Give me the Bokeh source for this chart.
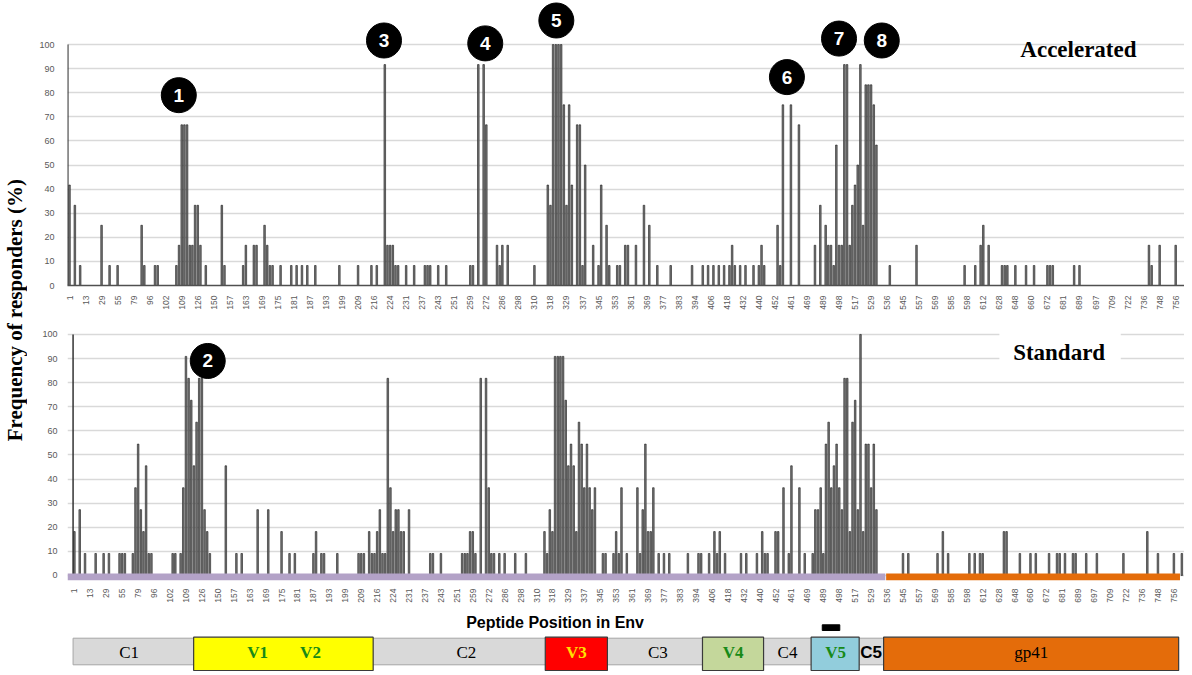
import math
from bokeh.plotting import figure
from bokeh.models import Range1d, FixedTicker, Div
from bokeh.layouts import row, column
from bokeh.embed import file_html
from bokeh.resources import INLINE
from bokeh.core.properties import value

# ---------------- data ----------------
tick_labels = ["1", "13", "29", "55", "79", "96", "102", "109", "126", "150",
               "157", "163", "169", "175", "181", "187", "193", "199", "209", "216",
               "224", "231", "237", "243", "251", "259", "272", "286", "298", "310",
               "318", "329", "337", "345", "353", "361", "369", "377", "383", "394",
               "406", "418", "432", "440", "452", "461", "469", "489", "498", "517",
               "529", "536", "545", "557", "569", "585", "598", "612", "628", "648",
               "660", "672", "681", "689", "697", "709", "722", "736", "748", "756"]
TICK_STEP = 6  # peptides between labelled ticks

# Accelerated: peptide index -> % responders
acc_idx = [0, 2, 4, 12, 15, 18, 27, 28, 32, 33, 40, 41, 42, 43, 44, 45, 46, 47, 48, 49,
           51, 57, 58, 65, 66, 69, 70, 73, 74, 75, 76, 79, 83, 85, 87, 89, 92, 101, 108, 113,
           115, 118, 119, 120, 121, 122, 123, 126, 129, 133, 134, 135, 138, 141, 150, 151, 153, 155, 156, 160,
           161, 162, 164, 174, 179, 180, 181, 182, 183, 184, 185, 186, 187, 188, 190, 191, 192, 193, 196, 198,
           199, 201, 202, 205, 206, 208, 209, 212, 215, 217, 220, 225, 233, 237, 239, 241, 243, 245, 247, 248,
           249, 251, 253, 256, 258, 259, 260, 265, 266, 267, 270, 273, 279, 281, 283, 284, 285, 286, 287, 288,
           289, 290, 291, 292, 293, 294, 295, 296, 297, 298, 299, 300, 301, 302, 307, 317, 335, 339, 341, 342,
           344, 349, 350, 351, 354, 358, 361, 366, 367, 368, 376, 378, 404, 405, 408, 414]
acc_val = [41.7, 33.3, 8.3, 25, 8.3, 8.3, 25, 8.3, 8.3, 8.3, 8.3, 16.7, 66.7, 66.7, 66.7, 16.7, 16.7, 33.3, 33.3, 16.7,
           8.3, 33.3, 8.3, 8.3, 16.7, 16.7, 16.7, 25, 16.7, 8.3, 8.3, 8.3, 8.3, 8.3, 8.3, 8.3, 8.3, 8.3, 8.3, 8.3,
           8.3, 91.7, 16.7, 16.7, 16.7, 8.3, 8.3, 8.3, 8.3, 8.3, 8.3, 8.3, 8.3, 8.3, 8.3, 8.3, 91.7, 91.7, 66.7, 16.7,
           8.3, 16.7, 16.7, 8.3, 41.7, 33.3, 100, 100, 100, 100, 75, 33.3, 75, 41.7, 66.7, 66.7, 8.3, 50, 16.7, 8.3,
           41.7, 25, 8.3, 8.3, 8.3, 16.7, 16.7, 16.7, 33.3, 25, 8.3, 8.3, 8.3, 8.3, 8.3, 8.3, 8.3, 8.3, 8.3, 16.7,
           8.3, 8.3, 8.3, 8.3, 8.3, 16.7, 8.3, 25, 8.3, 75, 75, 66.7, 16.7, 33.3, 25, 16.7, 16.7, 8.3, 58.3, 16.7,
           16.7, 91.7, 91.7, 16.7, 33.3, 41.7, 50, 91.7, 25, 83.3, 83.3, 83.3, 75, 58.3, 8.3, 16.7, 8.3, 8.3, 16.7, 25,
           16.7, 8.3, 8.3, 8.3, 8.3, 8.3, 8.3, 8.3, 8.3, 8.3, 8.3, 8.3, 16.7, 8.3, 16.7, 16.7]

# Standard: peptide index -> % responders
std_idx = [0, 2, 4, 8, 11, 13, 17, 18, 19, 22, 23, 24, 25, 26, 27, 28, 29, 37, 38, 40,
           41, 42, 43, 44, 45, 46, 47, 48, 49, 50, 51, 57, 61, 63, 69, 73, 78, 81, 83, 90,
           91, 93, 94, 99, 107, 108, 109, 111, 112, 113, 114, 115, 116, 117, 118, 119, 120, 121, 122, 123,
           124, 126, 134, 135, 138, 146, 147, 148, 149, 150, 151, 153, 155, 156, 157, 158, 160, 162, 166, 170,
           177, 178, 179, 180, 181, 182, 183, 184, 185, 186, 187, 188, 189, 190, 191, 192, 193, 194, 195, 196,
           199, 200, 203, 204, 205, 206, 208, 212, 213, 214, 215, 216, 217, 218, 220, 222, 224, 231, 235, 236,
           239, 241, 242, 243, 245, 251, 253, 257, 259, 260, 261, 264, 265, 267, 269, 270, 273, 275, 278, 279,
           280, 281, 282, 283, 284, 285, 286, 287, 288, 289, 290, 291, 292, 293, 294, 295, 296, 297, 298, 299,
           300, 301, 302, 312, 314, 325, 327, 329, 337, 339, 341, 342, 350, 351, 356, 360, 362, 367, 370, 371,
           373, 376, 377, 381, 385, 395, 404, 408, 414, 417]
std_val = [18.2, 27.3, 9.1, 9.1, 9.1, 9.1, 9.1, 9.1, 9.1, 9.1, 36.4, 54.5, 27.3, 18.2, 45.5, 9.1, 9.1, 9.1, 9.1, 9.1,
           36.4, 90.9, 81.8, 72.7, 45.5, 63.6, 81.8, 81.8, 27.3, 18.2, 9.1, 45.5, 9.1, 9.1, 27.3, 27.3, 18.2, 9.1, 9.1, 9.1,
           18.2, 9.1, 9.1, 9.1, 9.1, 9.1, 9.1, 18.2, 9.1, 9.1, 18.2, 27.3, 9.1, 9.1, 81.8, 36.4, 18.2, 27.3, 27.3, 18.2,
           18.2, 27.3, 9.1, 9.1, 9.1, 9.1, 9.1, 9.1, 18.2, 18.2, 9.1, 81.8, 81.8, 36.4, 9.1, 9.1, 9.1, 9.1, 9.1, 9.1,
           18.2, 9.1, 27.3, 18.2, 90.9, 90.9, 90.9, 90.9, 72.7, 45.5, 54.5, 45.5, 18.2, 63.6, 54.5, 36.4, 54.5, 36.4, 27.3, 36.4,
           9.1, 9.1, 9.1, 18.2, 9.1, 36.4, 9.1, 36.4, 9.1, 27.3, 54.5, 18.2, 18.2, 36.4, 9.1, 9.1, 9.1, 9.1, 9.1, 9.1,
           9.1, 18.2, 9.1, 18.2, 9.1, 9.1, 9.1, 9.1, 18.2, 9.1, 9.1, 18.2, 18.2, 36.4, 9.1, 45.5, 36.4, 9.1, 9.1, 27.3,
           27.3, 36.4, 9.1, 54.5, 63.6, 36.4, 45.5, 54.5, 36.4, 27.3, 81.8, 81.8, 18.2, 63.6, 72.7, 27.3, 100, 18.2, 54.5, 54.5,
           36.4, 54.5, 27.3, 9.1, 9.1, 9.1, 18.2, 9.1, 9.1, 9.1, 9.1, 9.1, 18.2, 18.2, 9.1, 9.1, 9.1, 9.1, 9.1, 9.1,
           9.1, 9.1, 9.1, 9.1, 9.1, 9.1, 18.2, 9.1, 9.1, 9.1]

y_ticks = [0, 10, 20, 30, 40, 50, 60, 70, 80, 90, 100]

# numbered epitope markers (label, peptide index, height in %)
acc_badge_text = ["1", "3", "4", "5", "6", "7", "8"]
acc_badge_x = [40.9, 117.7, 155.6, 182.2, 268.5, 288.0, 304.0]
acc_badge_y = [79.0, 101.7, 100.5, 110.0, 86.5, 102.5, 101.7]
std_badge_text = ["2"]
std_badge_x = [50.2]
std_badge_y = [89.0]

# Env domain map (in peptide-index units)
gp120_end = 305.5
env_end = 416.3
box_names = ["V1V2", "V3", "V4", "V5", "gp41"]
box_start = [44.9, 177.3, 236.5, 277.4, 304.7]
box_end = [112.5, 200.7, 259.5, 295.5, 415.8]
box_colors = ["#ffff00", "#ff0000", "#c4d79b", "#92cddc", "#e46c0a"]
domain_labels = ["C1", "V1", "V2", "C2", "V3", "C3", "V4", "C4", "V5", "C5", "gp41"]
domain_label_x = [20.6, 69.0, 88.9, 147.6, 189.0, 219.7, 248.0, 268.5, 286.6, 300.0, 360.3]
domain_label_color = ["black", "#178a17", "#178a17", "black", "#ffe000", "black",
                      "#178a17", "black", "#178a17", "black", "black"]
domain_label_font = ["Liberation Serif"] * 9 + ["Liberation Sans", "Liberation Serif"]
domain_label_style = ["normal", "bold", "bold", "normal", "bold", "normal",
                      "bold", "normal", "bold", "bold", "normal"]
v5_marker = (281.6, 288.2)

# ---------------- styling helpers ----------------
DIV_W = 30
FIG_W = 1184 - DIV_W
LEFT = 67 - DIV_W
GRID = "#d9d9d9"
LABEL_GREY = "#595959"


def style_panel(p, xaxis_line=True):
    p.outline_line_color = None
    p.background_fill_color = "white"
    p.border_fill_color = "white"
    p.xgrid.visible = False
    p.ygrid.ticker = FixedTicker(ticks=y_ticks)
    p.ygrid.grid_line_color = GRID
    p.ygrid.grid_line_width = 1.3
    ya = p.yaxis[0]
    ya.ticker = FixedTicker(ticks=y_ticks)
    ya.axis_line_color = None
    ya.major_tick_line_color = None
    ya.minor_tick_line_color = None
    ya.major_label_text_font = "Liberation Sans"
    ya.major_label_text_font_size = "9px"
    ya.major_label_text_color = LABEL_GREY
    xa = p.xaxis[0]
    xa.ticker = FixedTicker(ticks=[TICK_STEP * k for k in range(len(tick_labels))])
    xa.major_label_overrides = {TICK_STEP * k: lab for k, lab in enumerate(tick_labels)}
    xa.major_label_orientation = math.pi / 2
    xa.major_tick_line_color = None
    xa.minor_tick_line_color = None
    xa.major_label_text_font = "Liberation Sans"
    xa.major_label_text_font_size = "8.5px"
    xa.major_label_text_color = LABEL_GREY
    if xaxis_line:
        xa.axis_line_color = "#505050"
        xa.axis_line_width = 1.6
    else:
        xa.axis_line_color = None


def badges(p, xs, ys, texts):
    p.scatter(x=xs, y=ys, size=35, marker="circle", fill_color="black", line_color="black")
    p.text(x=xs, y=ys, text=texts, text_color="white", text_font=value("Liberation Sans"),
           text_font_style="bold", text_font_size="19px", text_align="center",
           text_baseline="middle")


def bars(p, xs, ys):
    p.vbar(x=xs, top=ys, bottom=0, width=0.6, fill_color="#7a7a7a",
           line_color="#1a1a1a", line_width=0.6)


# ---------------- top panel: Accelerated ----------------
top_x = Range1d(-0.75, 417.3)
p1 = figure(width=FIG_W, height=315, x_range=top_x, y_range=Range1d(0, 118.3),
            output_backend="svg", toolbar_location=None,
            min_border_left=LEFT, min_border_right=0, min_border_top=0, min_border_bottom=30)
style_panel(p1, xaxis_line=True)
p1.xaxis.major_label_standoff = 4
p1.yaxis.major_label_standoff = 7
p1.segment(x0=[top_x.start + 0.12], y0=[0], x1=[top_x.start + 0.12], y1=[100],
           line_color="#333333", line_width=1.5)
bars(p1, acc_idx, acc_val)
badges(p1, acc_badge_x, acc_badge_y, acc_badge_text)
p1.text(x=[377.6], y=[97.9], text=["Accelerated"], text_font=value("Liberation Serif"),
        text_font_style="bold", text_font_size="23px", text_align="center",
        text_baseline="middle", text_color="black")

# ---------------- bottom panel: Standard ----------------
bot_x = Range1d(-2.6, 418.0)
p2 = figure(width=FIG_W, height=297, x_range=bot_x, y_range=Range1d(-2.1, 103.3),
            output_backend="svg", toolbar_location=None,
            min_border_left=LEFT, min_border_right=0, min_border_top=11, min_border_bottom=32)
style_panel(p2, xaxis_line=False)
p2.xaxis.major_label_standoff = 2
p2.yaxis.major_label_standoff = 4
p2.segment(x0=[-0.5], y0=[0], x1=[-0.5], y1=[100], line_color="#333333", line_width=1.5)
bars(p2, std_idx, std_val)
# gp120 / gp41 coloured baseline
p2.quad(left=[bot_x.start, gp120_end + 0.15], right=[gp120_end - 0.15, env_end],
        bottom=[-2.1, -2.1], top=[0.8, 0.8], fill_color=["#b3a2c7", "#e46c0a"], line_color=None)
p2.quad(left=[348.3], right=[394.0], bottom=[87.5], top=[101.5], fill_color="white", line_color=None)
p2.text(x=[370.8], y=[92.5], text=["Standard"], text_font=value("Liberation Serif"),
        text_font_style="bold", text_font_size="23px", text_align="center",
        text_baseline="middle", text_color="black")
badges(p2, std_badge_x, std_badge_y, std_badge_text)

# ---------------- Env domain map ----------------
p3 = figure(width=FIG_W, height=62, x_range=bot_x, y_range=Range1d(62, 0),
            output_backend="svg", toolbar_location=None,
            min_border_left=LEFT, min_border_right=0, min_border_top=0, min_border_bottom=0)
p3.axis.visible = False
p3.grid.visible = False
p3.outline_line_color = None
p3.quad(left=[-0.5], right=[box_start[-1]], top=[25.7], bottom=[52.3],
        fill_color="#d9d9d9", line_color="#a6a6a6", line_width=1)
p3.quad(left=box_start, right=box_end, top=[24.7] * len(box_start), bottom=[58.0] * len(box_start),
        fill_color=box_colors, line_color="#3a3a3a", line_width=1.2)
p3.quad(left=[v5_marker[0]], right=[v5_marker[1]], top=[12.3], bottom=[18.0],
        fill_color="black", line_color="black")
p3.text(x=domain_label_x, y=[40.0] * len(domain_label_x), text=domain_labels,
        text_color=domain_label_color, text_font=domain_label_font,
        text_font_style=domain_label_style, text_font_size="17px",
        text_align="center", text_baseline="middle")
p3.text(x=[181.0], y=[9.5], text=["Peptide Position in Env"], text_font=value("Liberation Sans"),
        text_font_style="bold", text_font_size="16px", text_align="center",
        text_baseline="middle", text_color="black")

ytitle = Div(
    text=('<div style="width:30px;height:620px;display:flex;align-items:center;'
          'justify-content:center;"><span style="writing-mode:vertical-rl;'
          'transform:rotate(180deg);white-space:nowrap;font-family:\'Liberation Serif\';'
          'font-weight:bold;font-size:21px;color:black;">Frequency of responders (%)</span></div>'),
    width=DIV_W, height=620, margin=0)

layout = column(row(ytitle, column(p1, p2, p3, margin=0, spacing=0), margin=0, spacing=0),
                margin=0, spacing=0)
open("out.html", "w").write(file_html(layout, INLINE))
